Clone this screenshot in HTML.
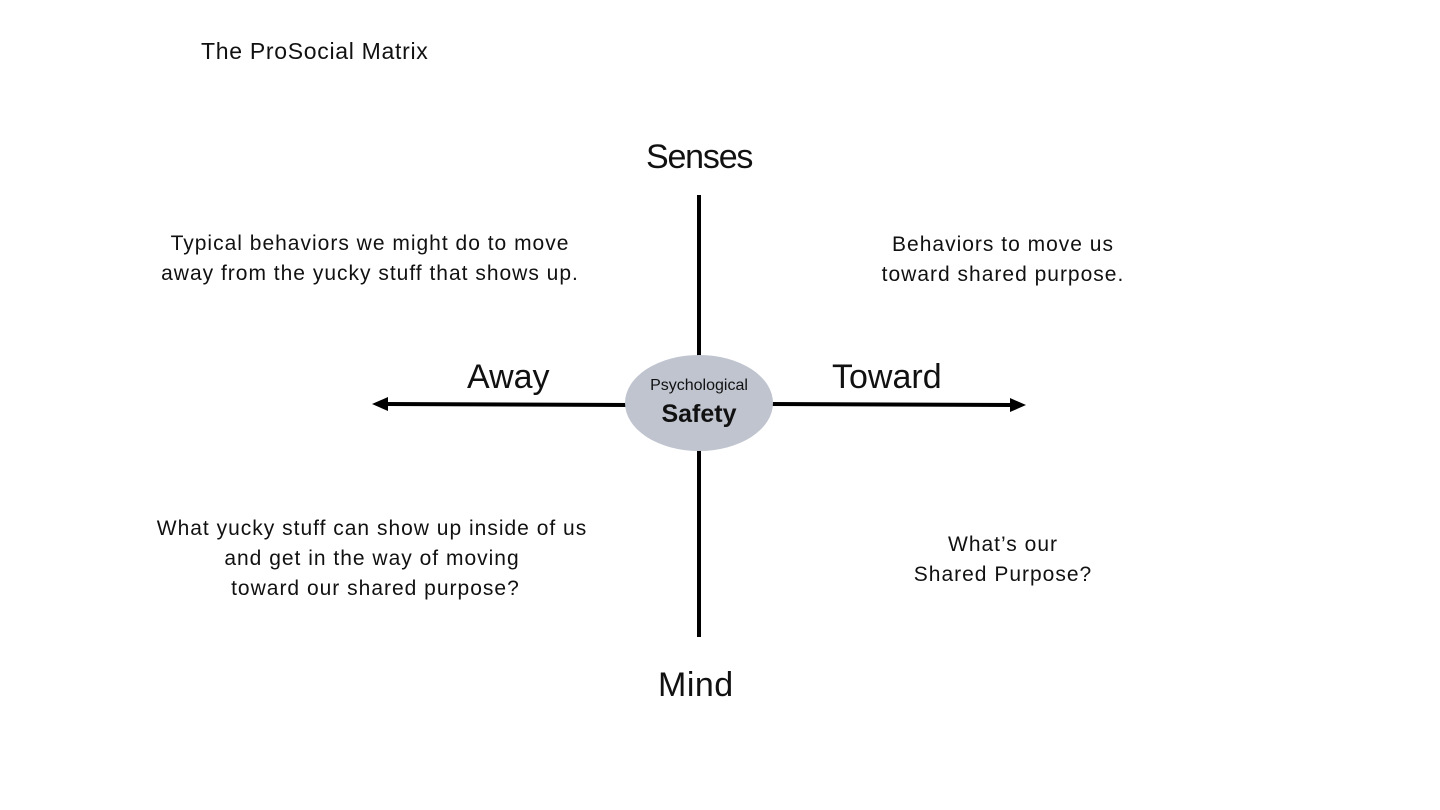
<!DOCTYPE html>
<html><head><style>
body{margin:0;width:1440px;height:810px;background:#fff;position:relative;overflow:hidden;font-family:"Liberation Sans","DejaVu Sans",sans-serif;color:#111}
.t{position:absolute;white-space:nowrap}
.c{text-align:center}
.b{letter-spacing:1px}
</style></head><body>
<svg width="1440" height="810" style="position:absolute;left:0;top:0">
<line x1="699" y1="195" x2="699" y2="360" stroke="#000" stroke-width="4"/>
<line x1="699" y1="448" x2="699" y2="637" stroke="#000" stroke-width="4"/>
<line x1="385" y1="404" x2="630" y2="405" stroke="#000" stroke-width="4"/>
<line x1="770" y1="404" x2="1012" y2="405" stroke="#000" stroke-width="4"/>
<polygon points="372,404 388,397 388,411" fill="#000"/>
<polygon points="1026,405 1010,398 1010,412" fill="#000"/>
<ellipse cx="699" cy="403" rx="74" ry="48" fill="#bfc4cf"/>
</svg>
<div class="t" style="left:201px;top:38px;font-size:23px;letter-spacing:0.7px">The ProSocial Matrix</div>
<div class="t" style="left:646px;top:138px;font-size:34px;letter-spacing:-1.2px">Senses</div>
<div class="t" style="left:658px;top:666px;font-size:34px;letter-spacing:0.5px">Mind</div>
<div class="t" style="left:467px;top:358px;font-size:34px">Away</div>
<div class="t" style="left:832px;top:358px;font-size:34px">Toward</div>
<div class="t c" style="left:625px;top:377px;width:148px;font-size:16px">Psychological</div>
<div class="t c" style="left:625px;top:400px;width:148px;font-size:25px;font-weight:bold">Safety</div>
<div class="t c b" style="left:130px;top:229px;width:480px;font-size:21px;line-height:30px">Typical behaviors we might do to move<br>away from the yucky stuff that shows up.</div>
<div class="t c b" style="left:853px;top:230px;width:300px;font-size:21px;line-height:30px">Behaviors to move us<br>toward shared purpose.</div>
<div class="t c b" style="left:130px;top:514px;width:484px;font-size:21px;line-height:30px">What yucky stuff can show up inside of us<br>and get in the way of moving<br>&nbsp;toward our shared purpose?</div>
<div class="t c b" style="left:853px;top:530px;width:300px;font-size:21px;line-height:30px">What’s our<br>Shared Purpose?</div>
</body></html>
